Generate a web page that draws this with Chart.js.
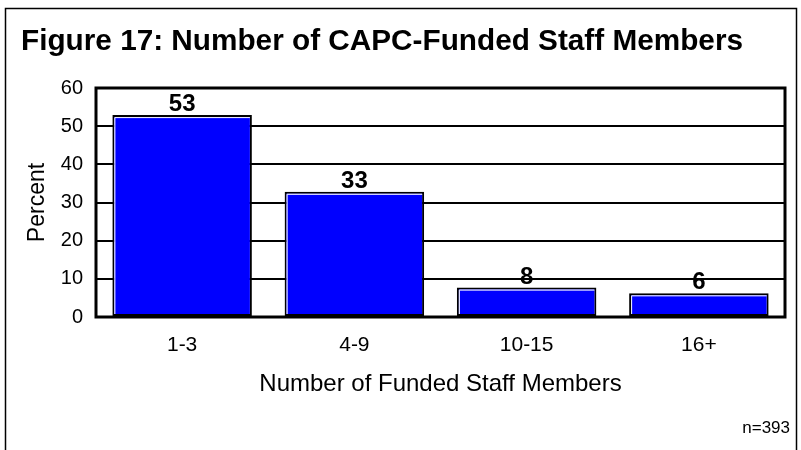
<!DOCTYPE html>
<html>
<head>
<meta charset="utf-8">
<script src="https://cdn.jsdelivr.net/npm/chart.js@4.4.1/dist/chart.umd.min.js"></script>
<style>
  html, body { margin: 0; padding: 0; background: #fff; }
  #wrap { position: relative; width: 801px; height: 450px; }
</style>
</head>
<body>
<div id="wrap"><canvas id="myChart" width="801" height="450"></canvas></div>
<script>
// chart data
const categories = ['1-3', '4-9', '10-15', '16+'];
const percents = [52.9, 32.8, 7.7, 6.2];
const yTicks = [0, 10, 20, 30, 40, 50, 60];
const titleText = 'Figure 17: Number of CAPC-Funded Staff Members';
const noteText = 'n=393';

const fontFam = "Arial, 'Liberation Sans', sans-serif";

// frame, title, note, bar labels, plot box
const decor = {
    id: 'decor',
    beforeDraw(chart) {
        let c = chart.ctx;
        c.save();
        c.fillStyle = '#fff';
        c.fillRect(0, 0, chart.width, chart.height);
        c.strokeStyle = '#000';
        c.lineWidth = 1.5;
        c.strokeRect(5.5, 8.5, 791, 500);
        c.restore();
    },
    afterDatasetsDraw(chart) {
        let c = chart.ctx;
        let meta = chart.getDatasetMeta(0);
        c.save();
        // white highlight inside bars
        meta.data.forEach(bar => {
            let l = bar.x - bar.width / 2, r = bar.x + bar.width / 2;
            c.strokeStyle = '#fff';
            c.lineWidth = 1;
            c.beginPath();
            c.moveTo(l + 2.5, bar.base - 2);
            c.lineTo(l + 2.5, bar.y + 2.5);
            c.lineTo(r - 2, bar.y + 2.5);
            c.stroke();
        });
        // plot box
        let a = chart.chartArea;
        c.strokeStyle = '#000';
        c.lineWidth = 3;
        c.strokeRect(a.left, a.top, a.right - a.left, a.bottom - a.top);
        // value labels
        c.fillStyle = '#000';
        c.font = 'bold 24px ' + fontFam;
        c.textAlign = 'center';
        c.textBaseline = 'alphabetic';
        meta.data.forEach((bar, i) => {
            c.fillText(String(Math.round(percents[i])), bar.x, bar.y - 4);
        });
        // title
        c.font = 'bold 29px ' + fontFam;
        c.textAlign = 'left';
        let w = c.measureText(titleText).width;
        c.save();
        c.translate(21, 50);
        c.scale(722 / w, 1);
        c.fillText(titleText, 0, 0);
        c.restore();
        // note
        c.font = '17px ' + fontFam;
        c.textAlign = 'right';
        c.fillText(noteText, 790, 433);
        c.restore();
    }
};

const ctx = document.getElementById('myChart').getContext('2d');
let myChart = new Chart(ctx, {
    type: 'bar',
    data: {
        labels: categories,
        datasets: [{
            data: percents,
            backgroundColor: '#0000ff',
            borderColor: '#000',
            borderWidth: 2,
            borderSkipped: false,
            barPercentage: 0.81,
            categoryPercentage: 1
        }]
    },
    options: {
        responsive: false,
        animation: false,
        devicePixelRatio: 1,
        layout: { padding: { top: 88, left: 24, right: 16, bottom: 51 } },
        plugins: { legend: { display: false }, tooltip: { enabled: false }, title: { display: false } },
        scales: {
            x: {
                grid: { display: false, drawTicks: false },
                border: { display: false },
                ticks: { color: '#000', padding: 16, font: { family: fontFam, size: 21 } },
                title: { display: true, text: 'Number of Funded Staff Members', color: '#000', padding: 0, font: { family: fontFam, size: 24 } },
                afterFit(scale) { scale.height = 82; }
            },
            y: {
                min: yTicks[0],
                max: yTicks[yTicks.length - 1],
                afterBuildTicks(scale) { scale.ticks = yTicks.map(v => ({ value: v })); },
                grid: { color: '#000', lineWidth: 2, drawTicks: false },
                border: { display: false },
                ticks: { color: '#000', padding: 13, font: { family: fontFam, size: 20 } },
                title: { display: true, text: 'Percent', color: '#000', padding: 0, font: { family: fontFam, size: 23 } },
                afterFit(scale) { scale.width = 72; }
            }
        }
    },
    plugins: [decor]
});
</script>
</body>
</html>
